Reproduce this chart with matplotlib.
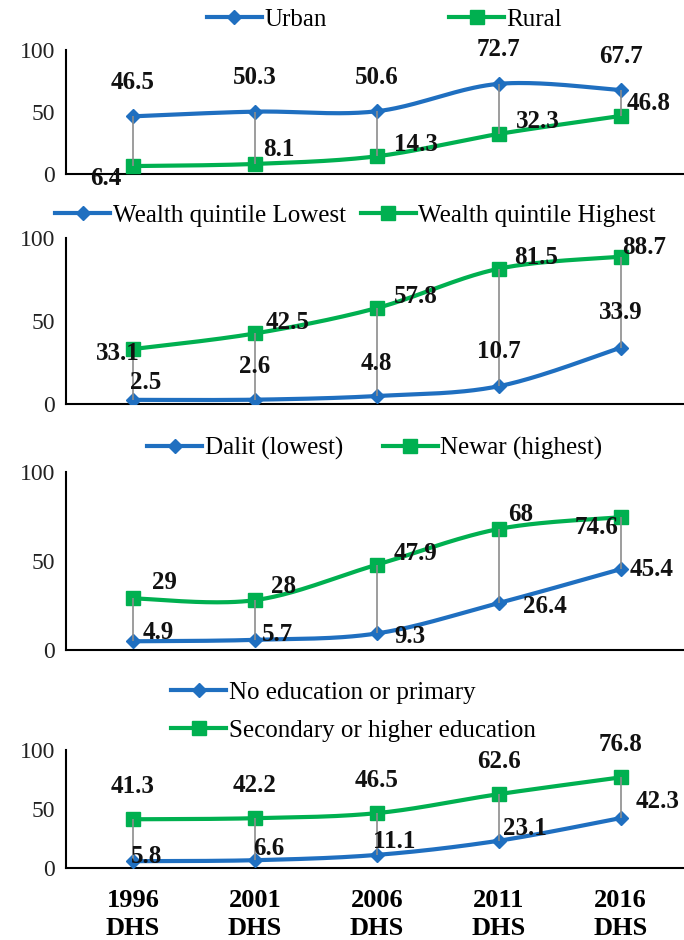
import numpy as np
import matplotlib
matplotlib.use("Agg")
import matplotlib.pyplot as plt

years = ["1996\nDHS", "2001\nDHS", "2006\nDHS", "2011\nDHS", "2016\nDHS"]

urban = [46.5, 50.3, 50.6, 72.7, 67.7]
rural = [6.4, 8.1, 14.3, 32.3, 46.8]
wealth_low = [2.5, 2.6, 4.8, 10.7, 33.9]
wealth_high = [33.1, 42.5, 57.8, 81.5, 88.7]
dalit = [4.9, 5.7, 9.3, 26.4, 45.4]
newar = [29, 28, 47.9, 68, 74.6]
edu_low = [5.8, 6.6, 11.1, 23.1, 42.3]
edu_high = [41.3, 42.2, 46.5, 62.6, 76.8]

labels = [
    ("Urban", "Rural"),
    ("Wealth quintile Lowest", "Wealth quintile Highest"),
    ("Dalit (lowest)", "Newar (highest)"),
    ("No education or primary", "Secondary or higher education"),
]

BLUE = "#1F6FC0"
GREEN = "#00B050"
GREY = "#8C8C8C"
SERIF = ["Liberation Serif", "DejaVu Serif"]

# label offsets in pixels (dx, dy) for (blue, green) series of each panel
offsets = [
    ([(0, 34)] * 5, [(-27, -12), (24, 14), (39, 12), (39, 12), (28, 12)]),
    ([(13, 17), (0, 33), (0, 33), (0, 35), (0, 35)],
     [(-15, -4), (33, 11), (39, 12), (37, 11), (24, 9)]),
    ([(25, 9), (23, 5), (33, -3), (46, -3), (31, 0)],
     [(31, 16), (29, 14), (39, 11), (22, 14), (-24, -10)]),
    ([(14, 5), (14, 12), (17, 13), (26, 12), (37, 17)], [(0, 33)] * 5),
]


def smooth(y, n=40):
    # Excel-style smoothed line (uniform Catmull-Rom as cubic Bezier)
    x = np.arange(len(y), dtype=float)
    y = np.asarray(y, dtype=float)
    px = np.concatenate([[x[0]], x, [x[-1]]])
    py = np.concatenate([[y[0]], y, [y[-1]]])
    t = np.linspace(0, 1, n)
    xs, ys = [], []
    for i in range(1, len(px) - 2):
        p0 = np.array([px[i], py[i]])
        p3 = np.array([px[i + 1], py[i + 1]])
        p1 = p0 + (np.array([px[i + 1], py[i + 1]]) - np.array([px[i - 1], py[i - 1]])) / 6
        p2 = p3 - (np.array([px[i + 2], py[i + 2]]) - np.array([px[i], py[i]])) / 6
        b = ((1 - t) ** 3)[:, None] * p0 + (3 * (1 - t) ** 2 * t)[:, None] * p1 \
            + (3 * (1 - t) * t ** 2)[:, None] * p2 + (t ** 3)[:, None] * p3
        xs.append(b[:, 0])
        ys.append(b[:, 1])
    return np.concatenate(xs), np.concatenate(ys)


fig = plt.figure(figsize=(6.84, 9.40), dpi=100)

# axes rectangles in pixels: (y of 0, y of 100)
panel_px = [(174, 50), (404, 238), (650, 472), (868, 750)]
legend_spec = [
    dict(loc="center", bbox_to_anchor=(0.562, 0.979), ncol=2, columnspacing=4.9),
    dict(loc="center", bbox_to_anchor=(0.52, 0.771), ncol=2, columnspacing=0.6),
    dict(loc="center", bbox_to_anchor=(0.548, 0.523), ncol=2, columnspacing=1.6),
    dict(loc="center left", bbox_to_anchor=(0.236, 0.243), ncol=1, labelspacing=0.62),
]
series = [(urban, rural), (wealth_low, wealth_high), (dalit, newar), (edu_low, edu_high)]

x = np.arange(len(years))
for k, ((blue, green), (y0, y100)) in enumerate(zip(series, panel_px)):
    ax = fig.add_axes([66 / 684, 1 - y0 / 940, 1 - 66 / 684, (y0 - y100) / 940])
    ax.set_xlim(-0.55, 4.52)
    ax.set_ylim(0, 100)
    for s in ["top", "right"]:
        ax.spines[s].set_visible(False)
    ax.spines["left"].set_linewidth(1.5)
    ax.spines["bottom"].set_linewidth(1.5)
    ax.set_yticks([0, 50, 100])
    ax.tick_params(axis="y", length=0, pad=8, labelsize=17)
    for t in ax.get_yticklabels():
        t.set_family(SERIF)
        t.set_color("#222222")
    ax.set_xticks(x)
    if k == 3:
        ax.set_xticklabels(years, fontsize=19, fontweight="bold", family=SERIF,
                           linespacing=1.3)
        ax.tick_params(axis="x", length=0, pad=15)
    else:
        ax.set_xticklabels([])
        ax.tick_params(axis="x", length=0)

    bx, by = smooth(blue)
    gx, gy = smooth(green)
    ax.plot(bx, by, color=BLUE, lw=3, zorder=3, solid_capstyle="round")
    ax.plot(gx, gy, color=GREEN, lw=3, zorder=3, solid_capstyle="round")
    ax.plot(x, blue, ls="none", marker="D", ms=7, color=BLUE, zorder=4)
    ax.plot(x, green, ls="none", marker="s", ms=10, color=GREEN, zorder=4)
    ax.vlines(x, blue, green, color=GREY, lw=1.2, zorder=5)

    h1, = ax.plot([], [], color=BLUE, lw=3, marker="D", ms=7)
    h2, = ax.plot([], [], color=GREEN, lw=3, marker="s", ms=10)
    fig.legend([h1, h2], labels[k], frameon=False, handlelength=2.2,
               handletextpad=0.1, prop={"family": SERIF, "size": 18},
               borderaxespad=0, **legend_spec[k])

    boff, goff = offsets[k]
    for vals, offs in ((blue, boff), (green, goff)):
        for xi, v, (dx, dy) in zip(x, vals, offs):
            ax.annotate(f"{v:g}", (xi, v), xytext=(dx, dy), textcoords="offset pixels",
                        ha="center", va="center", fontsize=18, fontweight="bold",
                        family=SERIF, color="#111111", zorder=6, annotation_clip=False)

fig.savefig("out.png", dpi=100)
